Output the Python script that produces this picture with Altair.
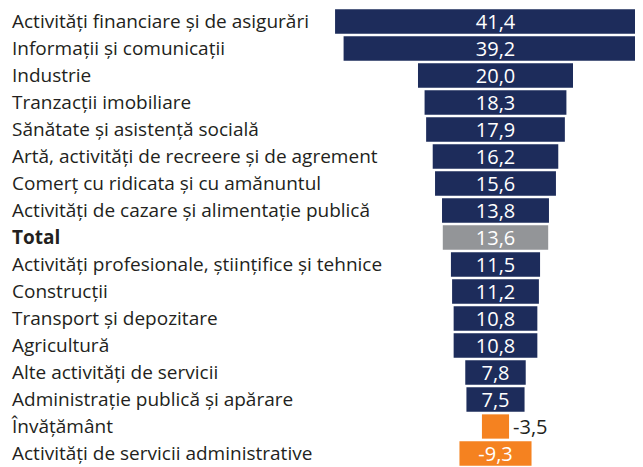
import altair as alt
import pandas as pd

categories = [
    "Activități financiare și de asigurări",
    "Informații și comunicații",
    "Industrie",
    "Tranzacții imobiliare",
    "Sănătate și asistență socială",
    "Artă, activități de recreere și de agrement",
    "Comerț cu ridicata și cu amănuntul",
    "Activități de cazare și alimentație publică",
    "Total",
    "Activități profesionale, științifice și tehnice",
    "Construcții",
    "Transport și depozitare",
    "Agricultură",
    "Alte activități de servicii",
    "Administrație publică și apărare",
    "Învățământ",
    "Activități de servicii administrative",
]
values = [41.4, 39.2, 20.0, 18.3, 17.9, 16.2, 15.6, 13.8, 13.6,
          11.5, 11.2, 10.8, 10.8, 7.8, 7.5, -3.5, -9.3]
groups = ["pos"] * 8 + ["total"] + ["pos"] * 6 + ["neg"] * 2

df = pd.DataFrame({"cat": categories, "v": values, "g": groups})

FONT = "Open Sans"
base = alt.Chart(df).transform_calculate(
    a="abs(datum.v)",
    lo="-abs(datum.v)/2",
    hi="abs(datum.v)/2",
    mid="0",
    lbl="replace(replace(format(datum.v, '.1f'), '.', ','), '\u2212', '-')",
)

yenc = alt.Y("cat:N", sort=categories, axis=None,
             scale=alt.Scale(domain=categories, paddingInner=0.1, paddingOuter=0.05))
xscale = alt.Scale(domain=[-62.9, 18.0], nice=False, zero=False)

bars = base.mark_bar(clip=True).encode(
    x=alt.X("lo:Q", scale=xscale, axis=None),
    x2="hi:Q",
    y=yenc,
    color=alt.Color("g:N", legend=None,
                    scale=alt.Scale(domain=["pos", "total", "neg"],
                                    range=["#1d2c5b", "#939598", "#f58220"])),
)

inside = base.transform_filter("abs(datum.v) >= 5").mark_text(
    align="center", baseline="middle", color="white", font=FONT, fontSize=20, dy=1
).encode(x=alt.X("mid:Q", scale=xscale), y=yenc, text="lbl:N")

outside = base.transform_filter("abs(datum.v) < 5").mark_text(
    align="left", baseline="middle", color="#231f20", font=FONT, fontSize=20, dx=4, dy=1
).encode(x=alt.X("hi:Q", scale=xscale), y=yenc, text="lbl:N")

names = base.transform_filter("datum.cat != 'Total'").mark_text(
    align="left", baseline="middle", color="#231f20", font=FONT, fontSize=19
).encode(x=alt.value(4), y=yenc, text="cat:N")

total_name = base.transform_filter("datum.cat == 'Total'").mark_text(
    align="left", baseline="middle", color="#231f20", font=FONT, fontSize=19, fontWeight="bold"
).encode(x=alt.value(4), y=yenc, text="cat:N")

chart = alt.layer(bars, inside, outside, names, total_name).properties(
    width=627, height=459, padding=0
).configure_view(stroke=None)

chart.save("out.html", embed_options={"renderer": "svg", "actions": False})
